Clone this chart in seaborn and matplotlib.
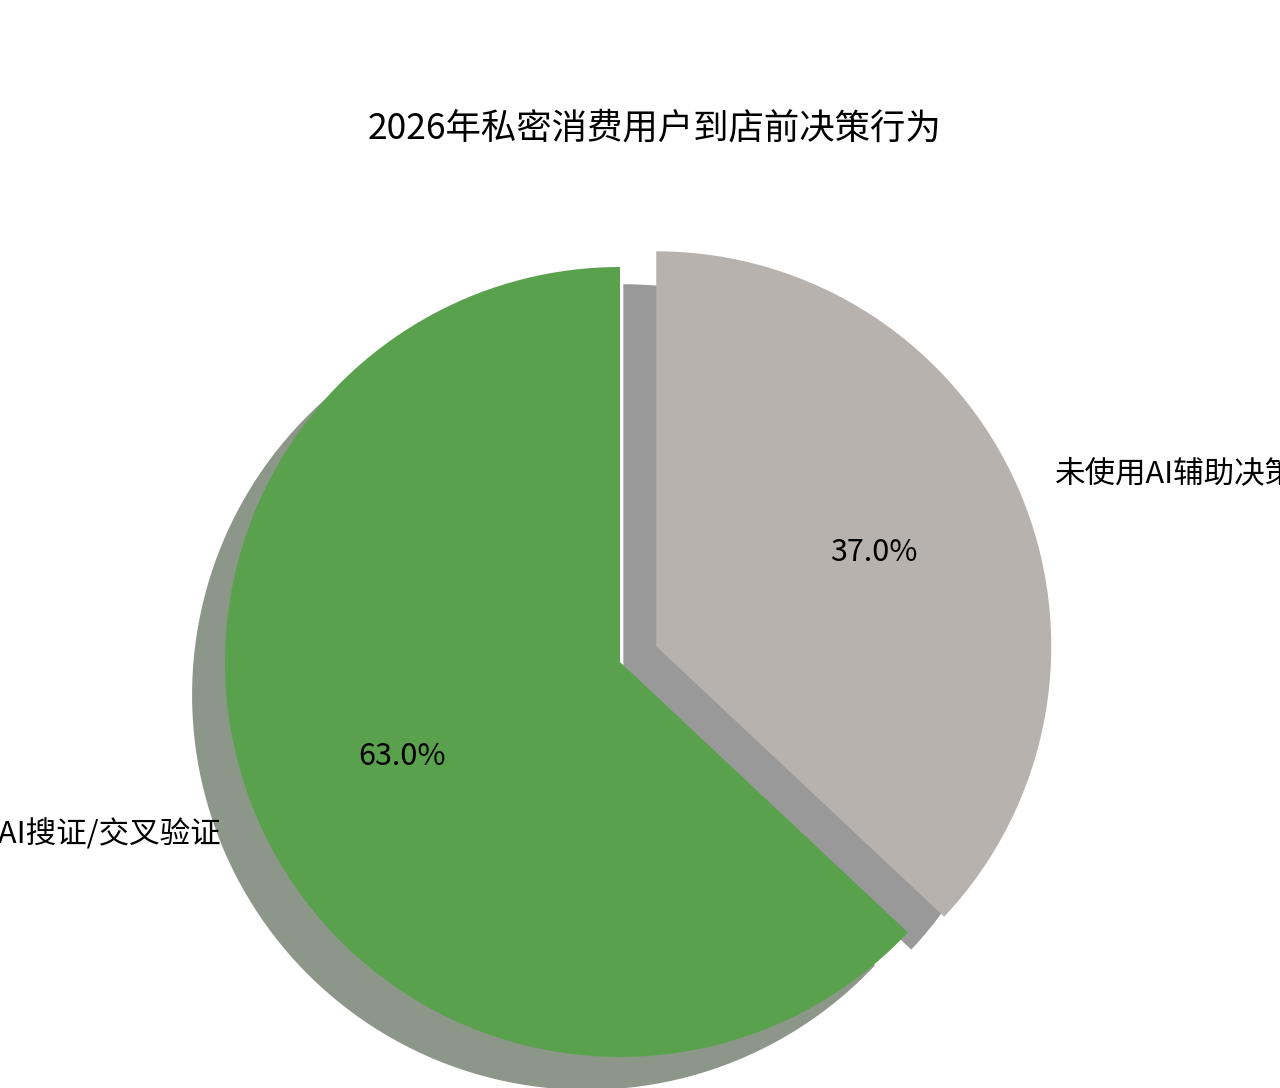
import matplotlib
matplotlib.use("Agg")
import matplotlib.pyplot as plt
import seaborn as sns

# data
labels = ["使用AI搜证/交叉验证", "未使用AI辅助决策"]
shares = [63.0, 37.0]
colors = ["#5aa14e", "#b8b2ae"]
title = "2026年私密消费用户到店前决策行为"

sns.set_theme(style="white")
plt.rcParams["font.family"] = ["Noto Sans CJK SC", "DejaVu Sans"]

fig = plt.figure(figsize=(12.8, 10.88), dpi=100)
# pie centre ~ (620, 662) px, radius ~395 px
side = 987.5
ax = fig.add_axes([(620 - side / 2) / 1280, (1088 - 662 - side / 2) / 1088,
                   side / 1280, side / 1088])

wedges, texts, autotexts = ax.pie(
    shares,
    labels=labels,
    colors=colors,
    autopct="%1.1f%%",
    startangle=90,
    explode=(0, 0.1),
    shadow={"ox": -0.06, "oy": -0.06},
    wedgeprops={"linewidth": 0, "edgecolor": "none"},
    textprops={"fontsize": 22, "color": "black"},
)
ax.set_xlim(-1.25, 1.25)
ax.set_ylim(-1.25, 1.25)
ax.set_aspect("equal")
ax.axis("off")

fig.text(655 / 1280, 1 - 128 / 1088, title, ha="center", va="center",
         fontsize=25.5, color="black")

fig.savefig("out.png", dpi=100)
